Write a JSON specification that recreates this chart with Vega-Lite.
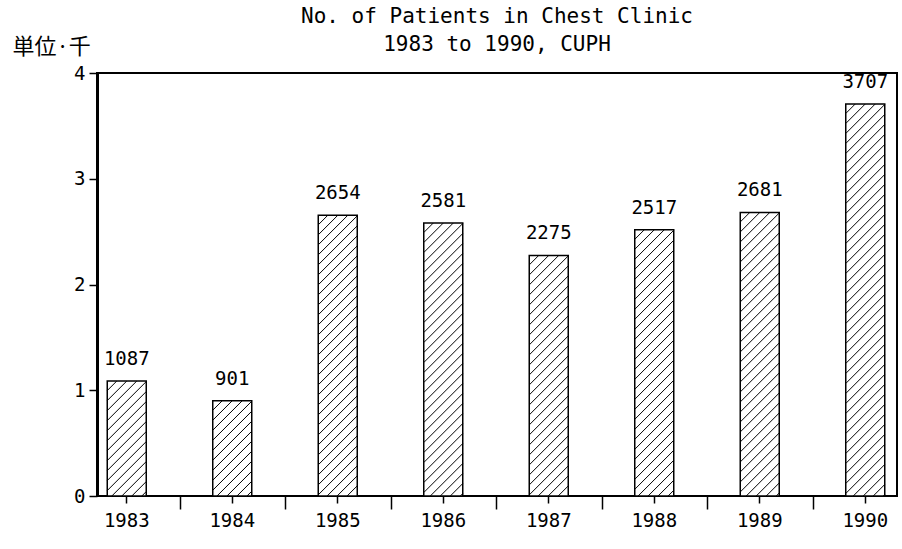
{
  "$schema": "https://vega.github.io/schema/vega-lite/v6.json",
  "width": 800,
  "height": 423,
  "autosize": {"type": "none"},
  "padding": {"left": 97, "top": 73, "right": 5, "bottom": 53},
  "background": "white",
  "title": {
    "text": ["No. of Patients in Chest Clinic", "1983 to 1990, CUPH"],
    "font": "DejaVu Sans Mono",
    "fontSize": 21,
    "fontWeight": "normal",
    "color": "black",
    "anchor": "middle",
    "lineHeight": 28,
    "offset": -20
  },
  "config": {
    "view": {"stroke": "black", "strokeWidth": 2},
    "font": "DejaVu Sans Mono"
  },
  "data": {
    "values": [
      {"year": "1983", "patients": 1087},
      {"year": "1984", "patients": 901},
      {"year": "1985", "patients": 2654},
      {"year": "1986", "patients": 2581},
      {"year": "1987", "patients": 2275},
      {"year": "1988", "patients": 2517},
      {"year": "1989", "patients": 2681},
      {"year": "1990", "patients": 3707}
    ]
  },
  "encoding": {
    "x": {
      "field": "year",
      "type": "ordinal",
      "scale": {"range": [-23, 821], "paddingInner": 0, "paddingOuter": 0}
    },
    "y": {
      "field": "patients",
      "type": "quantitative",
      "scale": {"domain": [0, 4000], "nice": false},
      "axis": {
        "title": "単位·千",
        "titleAngle": 0,
        "titleFont": "Noto Sans CJK JP",
        "titleFontSize": 22,
        "titleFontWeight": "normal",
        "titleColor": "black",
        "titleAlign": "left",
        "titleBaseline": "middle",
        "titleX": -85,
        "titleY": -27,
        "values": [0, 1000, 2000, 3000, 4000],
        "labelExpr": "datum.value / 1000",
        "labelFont": "DejaVu Sans Mono",
        "labelFontSize": 19,
        "labelColor": "black",
        "labelPadding": 4,
        "tickSize": 8,
        "tickColor": "black",
        "tickWidth": 1.5,
        "domainColor": "black",
        "domainWidth": 3,
        "grid": false
      }
    }
  },
  "layer": [
    {
      "mark": {"type": "bar", "width": 39, "fill": "white", "stroke": "black", "strokeWidth": 1.5},
      "encoding": {
        "x": {
          "field": "year",
          "type": "ordinal",
          "axis": {
            "title": null,
            "orient": "bottom",
            "labelAngle": 0,
            "labelFont": "DejaVu Sans Mono",
            "labelFontSize": 19,
            "labelColor": "black",
            "labelPadding": 8,
            "tickSize": 7,
            "tickColor": "black",
            "tickWidth": 1.5,
            "domain": false
          }
        }
      }
    },
    {
      "mark": {
        "type": "point",
        "shape": "M-19.5,9.5L-10,0M-19.5,19.5L0,0M-19.5,29.5L10,0M-19.5,39.5L19.5,0.5M-19.5,49.5L19.5,10.5M-19.5,59.5L19.5,20.5M-19.5,69.5L19.5,30.5M-19.5,79.5L19.5,40.5M-19.5,89.5L19.5,50.5M-19.5,99.5L19.5,60.5M-19.5,109.5L19.5,70.5M-19.5,119.5L19.5,80.5M-19.5,129.5L19.5,90.5M-19.5,139.5L19.5,100.5M-19.5,149.5L19.5,110.5M-19.5,159.5L19.5,120.5M-19.5,169.5L19.5,130.5M-19.5,179.5L19.5,140.5M-19.5,189.5L19.5,150.5M-19.5,199.5L19.5,160.5M-19.5,209.5L19.5,170.5M-19.5,219.5L19.5,180.5M-19.5,229.5L19.5,190.5M-19.5,239.5L19.5,200.5M-19.5,249.5L19.5,210.5M-19.5,259.5L19.5,220.5M-19.5,269.5L19.5,230.5M-19.5,279.5L19.5,240.5M-19.5,289.5L19.5,250.5M-19.5,299.5L19.5,260.5M-19.5,309.5L19.5,270.5M-19.5,319.5L19.5,280.5M-19.5,329.5L19.5,290.5M-19.5,339.5L19.5,300.5M-19.5,349.5L19.5,310.5M-19.5,359.5L19.5,320.5M-19.5,369.5L19.5,330.5M-19.5,379.5L19.5,340.5M-19.5,389.5L19.5,350.5M-19.5,399.5L19.5,360.5M-19.5,409.5L19.5,370.5M-19.5,419.5L19.5,380.5M-19.5,429.5L19.5,390.5M-19.5,439.5L19.5,400.5",
        "size": 4,
        "filled": false,
        "color": "black",
        "stroke": "black",
        "strokeWidth": 1,
        "opacity": 1,
        "clip": true
      },
      "encoding": {
        "x": {"field": "year", "type": "ordinal", "axis": null}
      }
    },
    {
      "mark": {
        "type": "text",
        "dy": -12,
        "baseline": "bottom",
        "align": "center",
        "font": "DejaVu Sans Mono",
        "fontSize": 19,
        "color": "black"
      },
      "encoding": {
        "x": {
          "field": "year",
          "type": "ordinal",
          "axis": {
            "title": null,
            "orient": "bottom",
            "labels": false,
            "domain": false,
            "tickBand": "extent",
            "tickExtra": false,
            "values": ["1984", "1985", "1986", "1987", "1988", "1989", "1990"],
            "tickSize": 13,
            "tickColor": "black",
            "tickWidth": 1.5
          }
        },
        "text": {"field": "patients", "type": "quantitative", "format": "d"}
      }
    }
  ],
  "resolve": {"axis": {"x": "independent"}}
}
